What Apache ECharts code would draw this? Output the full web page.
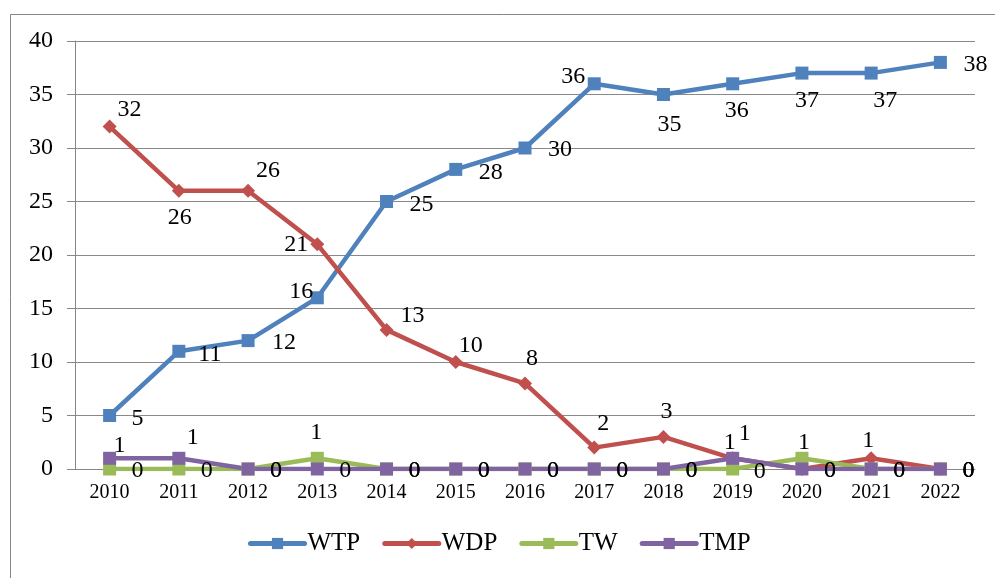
<!DOCTYPE html>
<html>
<head>
<meta charset="utf-8">
<script src="https://cdn.jsdelivr.net/npm/echarts@6/dist/echarts.min.js"></script>
<style>
  html, body { margin: 0; padding: 0; background: #fff; }
  #chart { width: 995px; height: 578px; }
</style>
</head>
<body>
<div id="chart"></div>
<script>
// data
var years = ['2010', '2011', '2012', '2013', '2014', '2015', '2016', '2017', '2018', '2019', '2020', '2021', '2022'];
var wtp = [5, 11, 12, 16, 25, 28, 30, 36, 35, 36, 37, 37, 38];
var wdp = [32, 26, 26, 21, 13, 10, 8, 2, 3, 1, 0, 1, 0];
var tw = [0, 0, 0, 1, 0, 0, 0, 0, 0, 0, 1, 0, 0];
var tmp = [1, 1, 0, 0, 0, 0, 0, 0, 0, 1, 0, 0, 0];
var yTicks = [0, 5, 10, 15, 20, 25, 30, 35, 40];

// where each data label sits, relative to its point (label placement only)
var wtpLabelAt = [[28, 3], [31, 3], [36, 2], [-16, -6], [35, 3], [35, 3], [35, 2], [-21, -7], [6, 30], [4, 27], [5, 28], [14, 28], [35, 2]];
var wdpLabelAt = [[20, -17], [1, 27], [20, -20], [-21, 0], [26, -14], [15, -16], [7, -25], [9, -24], [3, -25], [-3, -16], [28, 2], [-3, -18], [28, 2]];
var twLabelAt = [[28, 2], [28, 2], [28, 2], [-1, -26], [28, 2], [28, 2], [28, 2], [28, 2], [28, 2], [27, 3], [2, -16], [28, 2], [28, 2]];
var tmpLabelAt = [[10, -13], [14, -21], [28, 2], [28, 2], [28, 2], [28, 2], [28, 2], [28, 2], [28, 2], [12, -25], [28, 2], [28, 2], [28, 2]];

var font = '"Liberation Serif", "Times New Roman", serif';

function withLabels(values, offsets) {
  return values.map(function (v, i) {
    return { value: v, label: { offset: offsets[i] } };
  });
}

function makeSeries(name, color, symbol, values, offsets) {
  return {
    name: name,
    type: 'line',
    data: withLabels(values, offsets),
    symbol: symbol,
    symbolSize: symbol === 'diamond' ? 14 : 13,
    lineStyle: { color: color, width: 4.5 },
    itemStyle: { color: color },
    animation: false,
    label: {
      show: true,
      position: 'inside',
      color: '#000',
      fontFamily: font,
      fontSize: 24
    }
  };
}

var chart = echarts.init(document.getElementById('chart'));
chart.setOption({
  backgroundColor: '#fff',
  graphic: [{
    type: 'rect',
    left: 8, top: 12,
    shape: { width: 1000, height: 580 },
    style: { fill: 'none', stroke: '#868686', lineWidth: 1 },
    silent: true
  }],
  grid: { left: 75, right: 20, top: 41, bottom: 109 },
  legend: {
    left: 248,
    top: 531,
    padding: 0,
    itemWidth: 54,
    itemHeight: 14,
    itemGap: 22,
    lineStyle: { width: 5, cap: 'round' },
    textStyle: { fontFamily: font, fontSize: 25, color: '#000', padding: [0, 0, 0, -2] },
    data: ['WTP', 'WDP', 'TW', 'TMP']
  },
  xAxis: {
    type: 'category',
    data: years,
    axisLine: { lineStyle: { color: '#868686', width: 1 } },
    axisTick: { show: false },
    axisLabel: { color: '#000', fontFamily: font, fontSize: 20, margin: 14 }
  },
  yAxis: {
    type: 'value',
    min: yTicks[0],
    max: yTicks[yTicks.length - 1],
    interval: yTicks[1] - yTicks[0],
    axisLine: { show: true, lineStyle: { color: '#868686', width: 1 } },
    axisTick: { show: true, length: 8, lineStyle: { color: '#868686' } },
    splitLine: { lineStyle: { color: '#898989', width: 1 } },
    axisLabel: { color: '#000', fontFamily: font, fontSize: 24, margin: 22 }
  },
  series: [
    makeSeries('WTP', '#4F81BD', 'rect', wtp, wtpLabelAt),
    makeSeries('WDP', '#C0504D', 'diamond', wdp, wdpLabelAt),
    makeSeries('TW', '#9BBB59', 'rect', tw, twLabelAt),
    makeSeries('TMP', '#8064A2', 'rect', tmp, tmpLabelAt)
  ]
});
</script>
</body>
</html>
